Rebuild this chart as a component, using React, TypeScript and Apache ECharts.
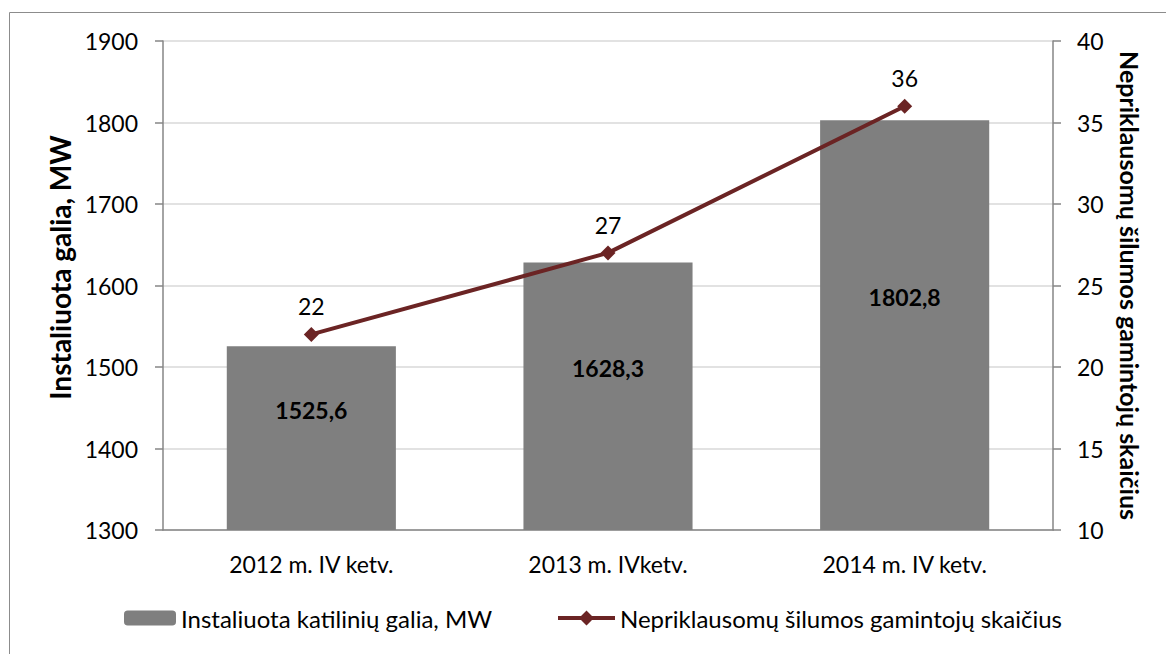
import React, { useEffect, useRef } from "react";
import * as echarts from "echarts";

const categories = ["2012 m. IV ketv.", "2013 m. IVketv.", "2014 m. IV ketv."];
const capacityMW = [1525.6, 1628.3, 1802.8];
const producerCount = [22, 27, 36];
const barName = "Instaliuota katilinių galia, MW";
const lineName = "Nepriklausomų šilumos gamintojų skaičius";
const leftAxisTitle = "Instaliuota galia, MW";
const rightAxisTitle = "Nepriklausomų šilumos gamintojų skaičius";

const FONT = "Lato";
const LINE_COLOR = "#6b2424";
const LINE_LEGEND_ICON =
  "path://M0,5.5 L23,5.5 L28.5,0 L34,5.5 L57,5.5 L57,9.5 L34,9.5 L28.5,15 L23,9.5 L0,9.5 Z";

export default function App() {
  const ref = useRef<HTMLDivElement>(null);
  useEffect(() => {
    if (!ref.current) return;
    const chart = echarts.init(ref.current, null, { renderer: "svg" });
    chart.setOption({
      animation: false,
      backgroundColor: "#ffffff",
      textStyle: { fontFamily: FONT },
      graphic: [
        {
          type: "rect",
          shape: { x: 9.5, y: 12.5, width: 1170, height: 660 },
          style: { fill: "none", stroke: "#8c8c8c", lineWidth: 1 },
          silent: true,
        },
      ],
      grid: { left: 163, right: 113, top: 41, bottom: 124 },
      legend: [
        {
          data: [barName],
          left: 119,
          top: 601,
          itemWidth: 52,
          itemHeight: 15,
          itemGap: 0,
          textStyle: { fontFamily: FONT, fontSize: 24, color: "#000" },
        },
        {
          data: [{ name: lineName, icon: LINE_LEGEND_ICON }],
          left: 553,
          top: 601,
          itemWidth: 57,
          itemHeight: 15,
          itemStyle: { color: LINE_COLOR, borderWidth: 0 },
          textStyle: { fontFamily: FONT, fontSize: 24, color: "#000" },
        },
      ],
      xAxis: {
        type: "category",
        data: categories,
        axisLine: { lineStyle: { color: "#868686", width: 1.5 } },
        axisTick: { show: false },
        axisLabel: { fontFamily: FONT, fontSize: 23, color: "#000", margin: 22 },
      },
      yAxis: [
        {
          type: "value",
          min: 1300,
          max: 1900,
          interval: 100,
          name: leftAxisTitle,
          nameLocation: "middle",
          nameRotate: 90,
          nameGap: 86,
          nameTextStyle: {
            fontFamily: FONT,
            fontSize: 28,
            fontWeight: "bold",
            color: "#000",
            padding: [0, 0, 0, 36],
          },
          axisLine: { show: true, lineStyle: { color: "#868686", width: 1.5 } },
          axisTick: { show: true, length: 8, lineStyle: { color: "#868686", width: 1.5 } },
          axisLabel: {
            fontFamily: FONT,
            fontSize: 23,
            color: "#000",
            margin: 25,
            formatter: (v: number) => String(v),
          },
          splitLine: { lineStyle: { color: "#d9d9d9", width: 1.5 } },
        },
        {
          type: "value",
          min: 10,
          max: 40,
          interval: 5,
          position: "right",
          name: rightAxisTitle,
          nameLocation: "middle",
          nameRotate: -90,
          nameGap: 64,
          nameTextStyle: { fontFamily: FONT, fontSize: 25, fontWeight: "bold", color: "#000" },
          axisLine: { show: true, lineStyle: { color: "#868686", width: 1.5 } },
          axisTick: { show: true, length: 8, lineStyle: { color: "#868686", width: 1.5 } },
          axisLabel: {
            fontFamily: FONT,
            fontSize: 23,
            color: "#000",
            margin: 24,
            formatter: (v: number) => String(v),
          },
          splitLine: { show: false },
        },
      ],
      series: [
        {
          name: barName,
          type: "bar",
          yAxisIndex: 0,
          data: capacityMW,
          barWidth: "57%",
          itemStyle: { color: "#7f7f7f" },
          label: {
            show: true,
            position: "inside",
            offset: [0, -28],
            fontFamily: FONT,
            fontSize: 23,
            fontWeight: "bold",
            color: "#000",
            formatter: (p: any) => String(p.value).replace(".", ","),
          },
        },
        {
          name: lineName,
          type: "line",
          yAxisIndex: 1,
          data: producerCount,
          symbol: "diamond",
          symbolSize: 15,
          itemStyle: { color: LINE_COLOR },
          lineStyle: { color: LINE_COLOR, width: 4 },
          label: {
            show: true,
            position: "top",
            distance: 9,
            fontFamily: FONT,
            fontSize: 23,
            color: "#000",
          },
        },
      ],
    });
    return () => chart.dispose();
  }, []);
  return (
    <div
      ref={ref}
      style={{ position: "absolute", left: 0, top: 0, width: 1166, height: 654 }}
    />
  );
}
